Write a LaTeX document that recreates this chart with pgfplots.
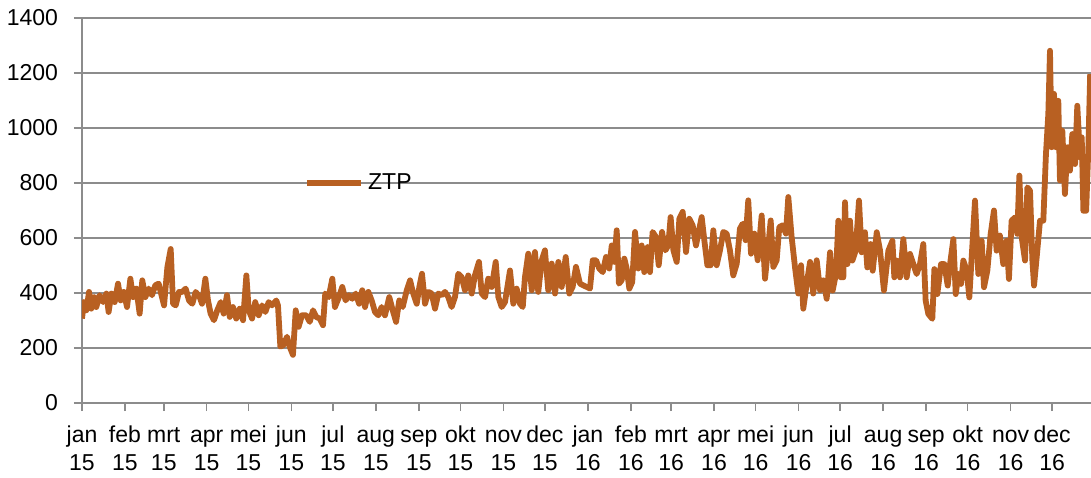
\documentclass[border=0pt]{standalone}
\usepackage{fontspec}
\setmainfont{Liberation Sans}
\usepackage{pgfplots}
\pgfplotsset{compat=1.18}
\definecolor{ztp}{RGB}{184,96,34}
\definecolor{gridgray}{RGB}{140,140,140}
\begin{document}
\fontsize{11.5}{14}\selectfont
\begin{tikzpicture}
\begin{axis}[
 scale only axis, width=504.5pt, height=192.5pt,
 xmin=0, xmax=728, ymin=0, ymax=1400,
 axis x line=bottom, axis y line=left,
 axis line style={-, gridgray, line width=0.75pt},
 ytick={0,200,...,1400}, ymajorgrids,
 grid style={gridgray, line width=0.75pt},
 xtick={0,31,59,90,120,151,181,212,243,273,304,334,365,396,425,456,486,517,547,578,609,639,670,700},
 xticklabels={{jan\strut\\15\strut},{feb\strut\\15\strut},{mrt\strut\\15\strut},{apr\strut\\15\strut},{mei\strut\\15\strut},{jun\strut\\15\strut},{jul\strut\\15\strut},{aug\strut\\15\strut},{sep\strut\\15\strut},{okt\strut\\15\strut},{nov\strut\\15\strut},{dec\strut\\15\strut},{jan\strut\\16\strut},{feb\strut\\16\strut},{mrt\strut\\16\strut},{apr\strut\\16\strut},{mei\strut\\16\strut},{jun\strut\\16\strut},{jul\strut\\16\strut},{aug\strut\\16\strut},{sep\strut\\16\strut},{okt\strut\\16\strut},{nov\strut\\16\strut},{dec\strut\\16\strut}},
 xticklabel style={align=center, font=\fontsize{11.5}{14}\selectfont, yshift=-2pt},
 yticklabel style={font=\fontsize{11.5}{14}\selectfont, xshift=-4pt},
 tick style={gridgray, line width=0.75pt}, tick align=outside, major tick length=4pt,
 /pgf/number format/assume math mode=true,
 /pgf/number format/1000 sep={},
 legend style={draw=none, fill=none, at={(0.220,0.571)}, anchor=west, font=\fontsize{11.5}{14}\selectfont, inner sep=0pt},
 legend image code/.code={\draw[#1] (0pt,0pt) -- (27pt,0pt);},
 clip=true,
]
\addplot[ztp, line width=2.9pt, line join=round] table {
x y
0 307
1.4 367
3.1 337
5.1 404
6.7 343
8.7 385
10.3 349
12.7 392
15.2 367
17.6 398
19.2 331
21.2 398
23.6 367
26 434
27.9 373
30.1 404
32.5 349
34.9 452
36.8 385
39.2 416
41.6 325
43.5 446
45.7 385
48.1 416
50.5 392
52.9 428
55.3 434
57.7 385
59.2 355
61.6 494
64 560
65.7 361
67.6 355
70 404
72.4 404
74.8 416
77.2 373
79.6 361
82 404
84.9 385
86.6 361
89 452
90.9 373
92.8 325
95.2 301
97.6 337
100.1 367
102.2 325
104.6 392
106.6 313
108.9 349
111.3 307
113.8 343
116.2 301
118.6 464
120.3 337
122.7 307
125 367
127.5 319
129.9 355
132.3 331
134.7 367
137.1 355
140.2 373
141.4 355
143.1 205
145.5 211
147.9 241
149.8 205
152.2 175
154.2 337
156.3 277
158.7 319
161.8 319
164.3 295
166.7 337
169 313
171.5 307
173.9 283
175.5 398
178 385
180.6 452
182.5 349
184.9 379
187.8 422
190.2 373
192.6 392
195 379
197.5 398
199.9 361
202.2 410
204.2 349
206.6 404
209 373
211.4 331
213.8 319
216.2 349
218.6 319
221.7 385
224.2 337
226.6 295
228.9 373
231.4 349
234.3 410
236.7 446
239 398
241.5 361
243.4 422
245.3 470
247.5 361
249.9 404
252.3 398
254.7 343
257.1 398
259.5 392
261.9 404
264.3 385
266.7 349
269.1 385
271.5 470
273.9 458
276.3 410
278.7 464
281.2 398
283.5 464
286.4 513
288.4 398
290.8 385
293.1 452
295.6 422
298.5 513
300.4 385
302.8 349
305.2 367
308.8 482
311.2 361
313.6 416
316 361
318 349
319.6 458
322 543
324.5 410
326.8 549
329.2 404
331.7 519
334 555
336.4 410
338.9 507
341.3 398
343.7 513
346.1 422
349 531
351.6 398
354 422
356.4 495
359.3 434
361.7 428
364.1 422
366.5 416
368.5 519
370.9 519
373.2 489
375.7 476
378.1 531
380.4 489
382.2 573
384.1 513
385.8 628
387.4 434
389.4 446
391.3 525
393 489
394.9 416
397 440
399 622
401.4 489
403.8 573
405.7 476
408.1 567
409.8 476
411.7 622
414.1 604
416.1 501
418.5 622
420.9 555
423 573
424.7 676
426.7 555
429.1 513
431 670
433.4 695
435.8 549
438.2 670
440.6 646
443 573
445.4 634
447.1 676
449 592
451.2 501
453.6 501
455.5 628
457.9 501
460.3 555
462.7 622
465.1 616
467.5 555
469.9 464
472.4 507
474.7 634
476.7 652
478.8 592
480.7 737
482.7 543
485.1 616
487.5 519
490.4 682
492.8 452
495.2 573
496.9 664
498.8 495
501.2 519
503.1 640
505.5 646
507.9 616
509.6 749
512 604
514.4 495
516.8 398
518.8 501
520.4 343
522.9 434
525.3 513
527.6 398
530.1 519
532.5 410
534.9 446
537.3 379
539.7 548
541.6 409
544 469
545.7 663
547.4 457
549.3 457
550.5 730
552.2 505
554.1 663
555.8 518
558.2 554
560.6 736
562.5 548
564.9 621
566.6 493
569 578
570.5 481
573.4 621
575.8 554
578.6 409
581.8 554
584.7 590
586.1 457
587.8 518
590.2 457
592.6 596
595 457
597.4 542
599.8 505
602.2 469
604.6 505
607 578
608.7 372
610.6 324
613.5 306
615 487
617.1 396
619.8 505
622.2 505
624.6 427
626.3 505
628.7 596
630.4 396
632.3 469
634.2 433
635.9 518
638.3 481
640.2 384
641.9 530
644.3 736
646.7 469
649.1 590
650.8 421
653.2 481
655.6 615
658 700
659.9 554
662.3 609
664.7 505
667.1 590
668.8 451
670.7 663
673.2 675
674.8 615
676.3 827
678 602
680.4 518
682.1 784
684 772
685.7 518
686.9 427
688.8 530
691.2 663
693.6 663
695.5 906
697.2 1051
698.4 1281
699.6 930
701.3 1124
702.7 930
704.4 1099
705.6 809
707.3 990
709.2 760
710.9 930
712.8 845
714.5 978
716.5 869
718.1 1081
720.1 893
721.3 966
722.5 699
724.5 699
726.1 930
727.4 1196
};
\addlegendentry{ZTP}
\end{axis}
\pgfresetboundingbox
\path (-41pt,-37pt) rectangle (504.5pt,201.5pt);
\end{tikzpicture}
\end{document}
